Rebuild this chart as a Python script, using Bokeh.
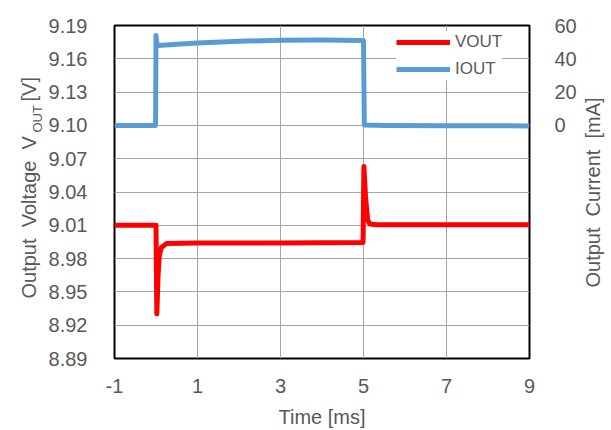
import math
from bokeh.plotting import figure
from bokeh.models import (Range1d, LinearAxis, FixedTicker, PrintfTickFormatter,
                          Legend, LegendItem, Label)
from bokeh.embed import file_html
from bokeh.resources import INLINE

# ---- data ----
t_vout = [-1.0, 0.0, 0.02, 0.05, 0.08, 0.13, 0.25, 1.0, 2.0, 3.0, 4.0, 4.99,
          5.01, 5.05, 5.1, 5.15, 5.3, 6.0, 7.0, 8.0, 9.0]
vout = [9.010, 9.010, 8.930, 8.965, 8.983, 8.990, 8.9935, 8.994, 8.994, 8.994, 8.9942, 8.9945,
        9.063, 9.035, 9.015, 9.0112, 9.0105, 9.0105, 9.0105, 9.0105, 9.0105]

t_iout = [-1.0, -0.01, 0.0, 0.02, 0.06, 0.5, 1.0, 2.0, 3.0, 4.0, 5.0, 5.02, 5.5, 7.0, 9.0]
iout = [0.0, 0.0, 54.0, 49.0, 48.0, 48.8, 49.5, 50.5, 51.2, 51.3, 51.0, 0.2, 0.0, -0.2, -0.3]

x_ticks = [-1, 1, 3, 5, 7, 9]
v_ticks = [8.89, 8.92, 8.95, 8.98, 9.01, 9.04, 9.07, 9.10, 9.13, 9.16, 9.19]
i_ticks = [0, 20, 40, 60]

GRAY = "#595959"
FONT = "Liberation Sans"

# frame geometry (pixels)
FL, FT, FW, FH = 114, 25, 415, 333
X0, X1 = -1.0, 9.0
Y0, Y1 = 8.89, 9.19

p = figure(output_backend="svg", toolbar_location=None,
           frame_width=FW, frame_height=FH,
           min_border_left=FL, min_border_top=FT, min_border_right=82, min_border_bottom=72,
           x_range=Range1d(X0, X1), y_range=Range1d(Y0, Y1))
p.extra_y_ranges = {"cur": Range1d(-140, 60)}

p.outline_line_color = "black"
p.outline_line_width = 2
p.background_fill_color = "white"
p.border_fill_color = "white"

# axes
for ax in [p.xaxis[0], p.yaxis[0]]:
    ax.axis_line_color = None
    ax.major_tick_line_color = None
    ax.minor_tick_line_color = None
    ax.major_label_text_color = GRAY
    ax.major_label_text_font = FONT
    ax.major_label_text_font_size = "20px"

p.xaxis[0].ticker = FixedTicker(ticks=x_ticks)
p.xaxis[0].formatter = PrintfTickFormatter(format="%d")
p.xaxis[0].major_label_standoff = 14
p.xaxis[0].axis_label = "Time [ms]"
p.xaxis[0].axis_label_text_font = FONT
p.xaxis[0].axis_label_text_font_size = "20px"
p.xaxis[0].axis_label_text_font_style = "normal"
p.xaxis[0].axis_label_text_color = GRAY
p.xaxis[0].axis_label_standoff = 10

p.yaxis[0].ticker = FixedTicker(ticks=v_ticks)
p.yaxis[0].formatter = PrintfTickFormatter(format="%.2f")
p.yaxis[0].major_label_standoff = 21

rax = LinearAxis(y_range_name="cur", ticker=FixedTicker(ticks=i_ticks))
rax.axis_line_color = None
rax.major_tick_line_color = None
rax.minor_tick_line_color = None
rax.major_label_text_color = GRAY
rax.major_label_text_font = FONT
rax.major_label_text_font_size = "20px"
rax.major_label_standoff = 19
p.add_layout(rax, "right")

# grid
p.xgrid.ticker = FixedTicker(ticks=x_ticks)
p.ygrid.ticker = FixedTicker(ticks=v_ticks)
p.xgrid.grid_line_color = "#a6a6a6"
p.ygrid.grid_line_color = "#a6a6a6"
p.xgrid.grid_line_width = 1
p.ygrid.grid_line_width = 1

# series
rv = p.line(t_vout, vout, line_color="#ff0000", line_width=5, line_join="round")
ri = p.line(t_iout, iout, line_color="#5b9bd5", line_width=5, line_join="round",
            y_range_name="cur")

legend = Legend(items=[LegendItem(label="VOUT", renderers=[rv]),
                       LegendItem(label="IOUT", renderers=[ri])],
                location=(282, 278), border_line_color=None,
                background_fill_color="white", background_fill_alpha=1.0,
                padding=6, spacing=5, glyph_width=54, glyph_height=22,
                label_height=22, label_standoff=5, margin=0,
                label_text_font=FONT, label_text_font_size="17px",
                label_text_color=GRAY)
p.add_layout(legend)

# axis titles (rotated, reading bottom-to-top), positioned by page pixels
def px2x(px):
    return X0 + (px - FL) / FW * (X1 - X0)

def py2y(py):
    return Y0 + (FT + FH - py) / FH * (Y1 - Y0)

titles = [("Output\u00a0 Voltage\u00a0 V", 28, 298, "20px", "left", "left"),
          ("OUT", 37, 132, "13px", "left", "left"),
          ("[V]", 28, 101, "20px", "left", "above"),
          ("Output\u00a0 Current\u00a0 [mA]", 592, 192, "20px", "center", "right")]
for txt, px, py, size, align, side in titles:
    p.add_layout(Label(x=px2x(px), y=py2y(py), text=txt, angle=math.pi / 2,
                       text_align=align, text_baseline="middle",
                       text_font=FONT, text_font_size=size, text_color=GRAY), side)

open("out.html", "w").write(file_html(p, INLINE))
